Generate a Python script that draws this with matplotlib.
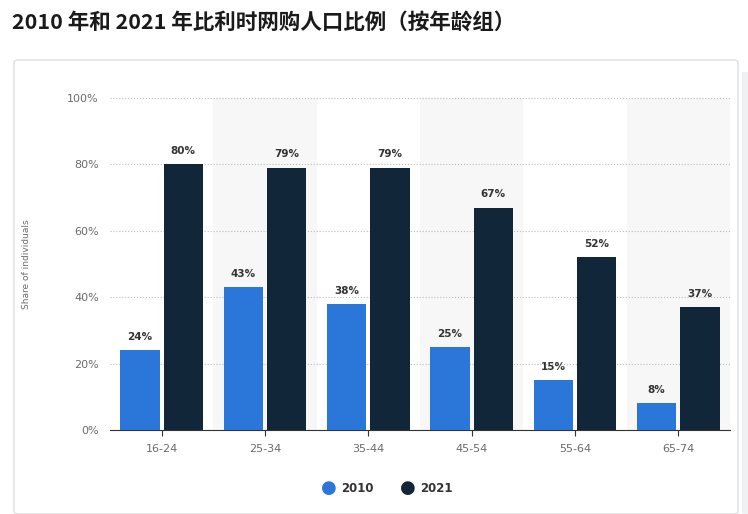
import matplotlib.pyplot as plt
import numpy as np
from matplotlib.patches import FancyBboxPatch, Rectangle

CJK = ["Noto Sans CJK SC", "Noto Sans CJK JP", "Noto Sans CJK TC",
       "Noto Sans CJK KR", "DejaVu Sans"]
plt.rcParams["font.family"] = CJK

age_groups = ["16-24", "25-34", "35-44", "45-54", "55-64", "65-74"]
share_2010 = [24, 43, 38, 25, 15, 8]
share_2021 = [80, 79, 79, 67, 52, 37]
y_ticks = [0, 20, 40, 60, 80, 100]

BLUE = "#2a77d9"
NAVY = "#12263a"
GREY_TXT = "#6b6b6b"

fig = plt.figure(figsize=(7.48, 5.14), dpi=100)
fig.patch.set_facecolor("white")

# card background with faint border
fig.patches.append(FancyBboxPatch((14 / 748, 0.0), 724 / 748, 1 - 60 / 514,
                                  boxstyle="round,pad=0,rounding_size=0.005",
                                  transform=fig.transFigure, facecolor="white",
                                  edgecolor="#e4e4e4", linewidth=1.2, zorder=-5))
fig.patches.append(Rectangle((742 / 748, 0.0), 6 / 748, 1 - 72 / 514,
                             transform=fig.transFigure, facecolor="#f0f1f3",
                             edgecolor="none", zorder=-5))

fig.text(12 / 748, 1 - 22 / 514, "2010 年和 2021 年比利时网购人口比例（按年龄组）",
         fontsize=15.5, fontweight="bold", color="#1a1a1a", va="center", ha="left",
         family=CJK)

ax = fig.add_axes([110 / 748, 1 - 430 / 514, 620 / 748, 332 / 514], zorder=5)
x = np.arange(len(age_groups))
for i in x:
    if i % 2 == 1:
        ax.axvspan(i - 0.5, i + 0.5, color="#f7f7f8", zorder=0, lw=0)

w = 0.38
off = 0.21
b1 = ax.bar(x - off, share_2010, w, color=BLUE, label="2010", zorder=3)
b2 = ax.bar(x + off, share_2021, w, color=NAVY, label="2021", zorder=3)
for bars, vals in ((b1, share_2010), (b2, share_2021)):
    for b, v in zip(bars, vals):
        ax.text(b.get_x() + b.get_width() / 2, v + 2.5, f"{v}%", ha="center",
                va="bottom", fontsize=7.5, fontweight="bold", color="#333333",
                family="DejaVu Sans")

ax.set_xlim(-0.5, 5.5)
ax.set_ylim(0, 100)
ax.set_yticks(y_ticks)
ax.set_yticklabels([f"{t}%" for t in y_ticks], family="DejaVu Sans")
ax.set_xticks(x)
ax.set_xticklabels(age_groups, family="DejaVu Sans")
ax.tick_params(axis="both", length=0, labelsize=8, colors=GREY_TXT, pad=8)
ax.tick_params(axis="x", length=4, color="#333333", pad=6)
ax.yaxis.grid(True, linestyle=":", color="#bbbbbb", linewidth=0.8, zorder=1)
ax.set_axisbelow(True)
for s in ("top", "right", "left"):
    ax.spines[s].set_visible(False)
ax.spines["bottom"].set_color("#333333")
ax.set_facecolor("none")
ax.set_ylabel("Share of individuals", fontsize=6.5, color=GREY_TXT,
              family="DejaVu Sans", labelpad=26)

# legend: round markers + bold labels
for px, c, lab in zip([0.44, 0.545], [BLUE, NAVY], ["2010", "2021"]):
    fig.text(px, 1 - 488 / 514, "●", color=c, fontsize=13, ha="center", va="center",
             family="DejaVu Sans")
    fig.text(px + 0.016, 1 - 488 / 514, lab, color="#333333", fontsize=8.5,
             fontweight="bold", ha="left", va="center", family="DejaVu Sans")

fig.savefig("out.png", dpi=100)
